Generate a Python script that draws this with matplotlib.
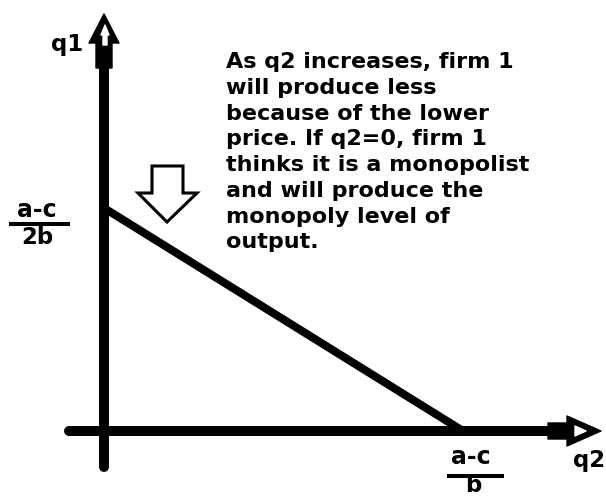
import matplotlib
matplotlib.use("Agg")
import matplotlib.pyplot as plt
from matplotlib.patches import Polygon

# Cournot best response of firm 1 (units: a-c = 1, b = 1)
q2_vals = [0.0, 1.0]   # q2 = 0 ... (a-c)/b
q1_vals = [0.5, 0.0]   # q1 = (a-c)/2b ... 0

note_lines = ["As q2 increases, firm 1",
              "will produce less",
              "because of the lower",
              "price. If q2=0, firm 1",
              "thinks it is a monopolist",
              "and will produce the",
              "monopoly level of",
              "output."]

# picture layout: origin and scale in pixels
X0, Y0 = 104, 431
SX, SY = 359, 446

def px(x, y):
    return ((x - X0) / SX, (Y0 - y) / SY)

fig = plt.figure(figsize=(6.06, 4.97), dpi=100)
ax = fig.add_axes([0, 0, 1, 1])
ax.set_xlim(px(0, 0)[0], px(606, 0)[0])
ax.set_ylim(px(0, 497)[1], px(0, 0)[1])
ax.axis("off")

# axes lines
ax.plot([0, 0], [px(0, 467)[1], px(0, 60)[1]], color="black", lw=7.2, solid_capstyle="round")
ax.plot([px(69, 0)[0], px(555, 0)[0]], [0, 0], color="black", lw=7.2, solid_capstyle="round")

# arrow heads
up_head = [(104, 14), (119, 43), (112, 43), (112, 68), (96, 68), (96, 43), (89, 43)]
up_inner = [(105, 25), (109, 35), (107, 35), (107, 45), (103, 45), (103, 35), (101, 35)]
right_head = [(548, 423), (567, 423), (567, 416), (601, 431), (567, 446), (567, 439), (548, 439)]
right_inner = [(575, 426), (586, 431), (575, 436)]
for pts, fc in [(up_head, "black"), (up_inner, "white"), (right_head, "black"), (right_inner, "white")]:
    ax.add_patch(Polygon([px(*p) for p in pts], closed=True, fc=fc, ec=fc, lw=1, joinstyle="round"))

# best response line
ax.plot(q2_vals, q1_vals, color="black", lw=5.8, solid_capstyle="butt")

# hollow down arrow
down = [(152, 166), (183, 166), (183, 193), (197, 193), (167, 222), (138, 193), (152, 193)]
ax.add_patch(Polygon([px(*p) for p in down], closed=True, fc="white", ec="black", lw=2.2,
                     joinstyle="miter"))

font = dict(family="DejaVu Sans", weight="bold", color="black")

ax.text(*px(67, 44), "q1", fontsize=16.5, ha="center", va="center", **font)
ax.text(*px(589, 460), "q2", fontsize=16.5, ha="center", va="center", **font)

# fractions
ax.text(*px(37, 210), "a-c", fontsize=17, ha="center", va="center", **font)
ax.plot([px(11, 0)[0], px(68, 0)[0]], [px(0, 224)[1]] * 2, color="black", lw=2.9)
ax.text(*px(37, 237), "2b", fontsize=16.5, ha="center", va="center", **font)

ax.text(*px(471, 457), "a-c", fontsize=17, ha="center", va="center", **font)
ax.plot([px(449, 0)[0], px(502, 0)[0]], [px(0, 476)[1]] * 2, color="black", lw=2.9)
ax.text(*px(473, 497), "b", fontsize=16.5, ha="center", va="bottom", **font)

ax.text(*px(226, 52), "\n".join(note_lines), fontsize=16, ha="left", va="top",
        linespacing=1.36, **font)

fig.savefig("out.png", dpi=100)
